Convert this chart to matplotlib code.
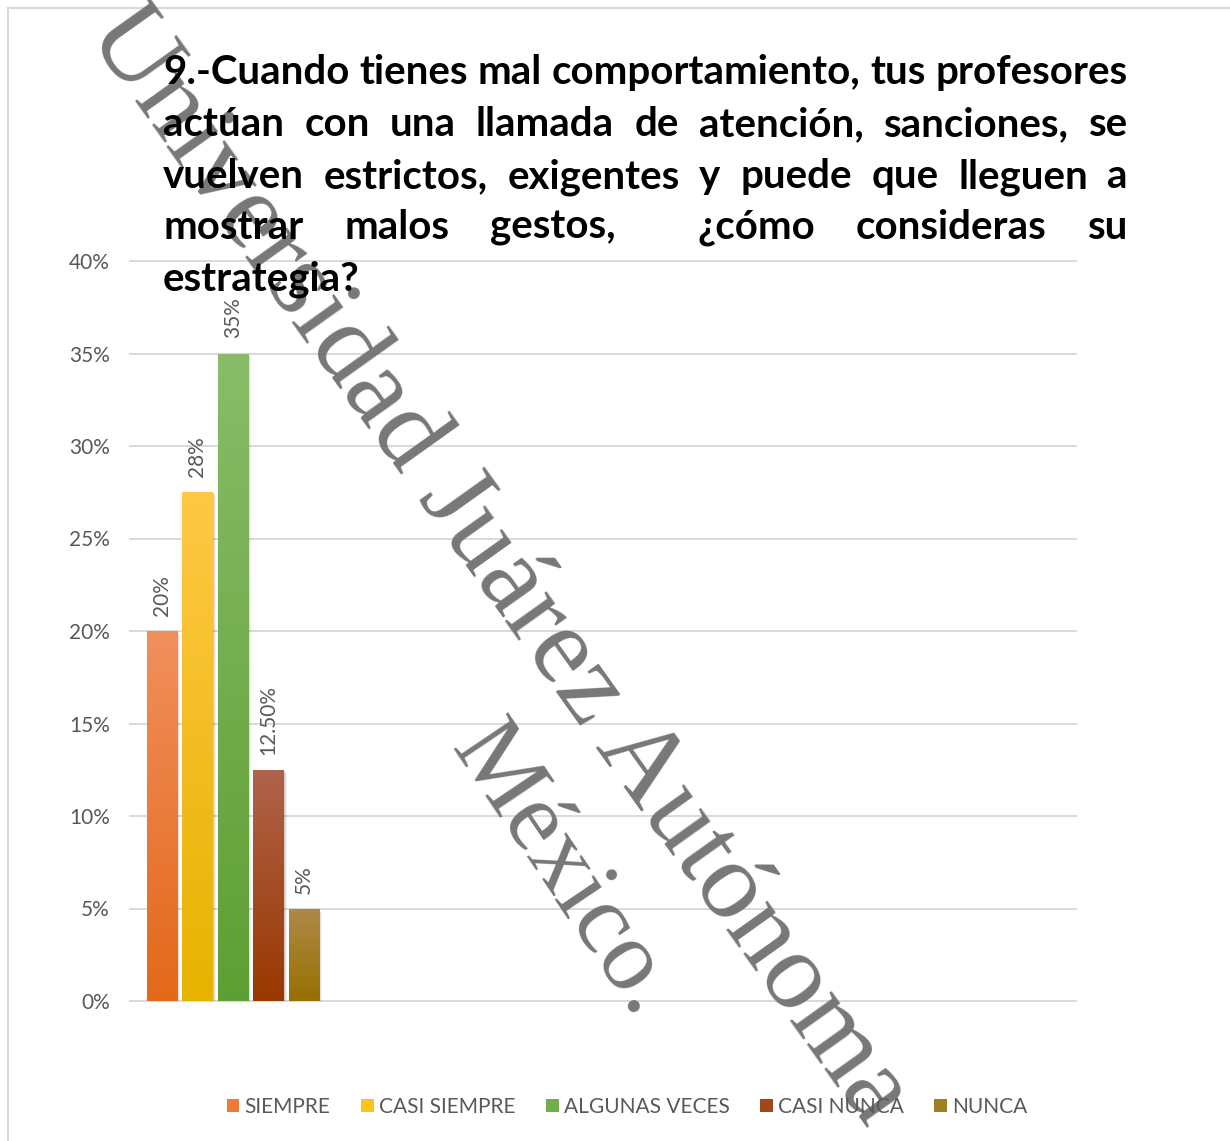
import numpy as np
import matplotlib
matplotlib.use("Agg")
import matplotlib.pyplot as plt
from matplotlib.transforms import IdentityTransform, offset_copy
from matplotlib.patches import Rectangle, Patch
from matplotlib.colors import to_rgb

# ---------------- data ----------------
categories = ["SIEMPRE", "CASI SIEMPRE", "ALGUNAS VECES", "CASI NUNCA", "NUNCA"]
values = [20, 27.5, 35, 12.5, 5]
value_labels = ["20%", "28%", "35%", "12.50%", "5%"]
yticks = [0, 5, 10, 15, 20, 25, 30, 35, 40]
ytick_labels = ["0%", "5%", "10%", "15%", "20%", "25%", "30%", "35%", "40%"]
title_lines = [
    "9.-Cuando tienes mal comportamiento, tus profesores",
    "actúan con una llamada de atención, sanciones, se",
    "vuelven estrictos, exigentes y puede que lleguen a",
    "mostrar malos gestos,  ¿cómo consideras su",
    "estrategia?",
]
watermark_lines = ["Universidad Juárez Autónoma", "México."]

# ---------------- style ----------------
top_colors = ["#F18F5C", "#FFC845", "#89BC69", "#B0634B", "#AF8A48"]
bottom_colors = ["#E3681A", "#E6B300", "#5E9F33", "#993800", "#967000"]
legend_colors = ["#EF7A35", "#FFC21A", "#72AE49", "#A2461C", "#A07E22"]
TXT = "#595959"
GRID = "#D9D9D9"
FONT = "Lato"

W, H, DPI = 1230, 1141, 100
fig = plt.figure(figsize=(W / DPI, H / DPI), dpi=DPI)
fig.patch.set_facecolor("white")
ident = IdentityTransform()

# chart border
fig.add_artist(Rectangle((8, -20), W + 40, H - 8 + 20, transform=ident,
                         fill=False, edgecolor=GRID, lw=1.5, zorder=0))

ax = fig.add_axes([130 / W, 1 - 1001 / H, 946 / W, 740 / H])
ax.set_facecolor("none")
x = np.arange(len(values))
bw = 0.85

# shadows
for dx, dy, a in [(1, -1, 0.10), (2, -2, 0.07), (3, -3, 0.05)]:
    tr = offset_copy(ax.transData, fig=fig, x=dx, y=dy, units="dots")
    ax.bar(x, values, width=bw, color="black", alpha=a, transform=tr, zorder=2,
           linewidth=0)

bars = ax.bar(x, values, width=bw, color="none", linewidth=0, zorder=3)
grad = np.linspace(0, 1, 256)[:, None, None]
for bar, ct, cb in zip(bars, top_colors, bottom_colors):
    x0, y0 = bar.get_x(), bar.get_y()
    w, h = bar.get_width(), bar.get_height()
    img = (1 - grad) * np.array(to_rgb(ct)) + grad * np.array(to_rgb(cb))
    im = ax.imshow(img, extent=[x0, x0 + w, y0, y0 + h], aspect="auto",
                   origin="upper", zorder=3, interpolation="bilinear")
    im.set_clip_path(bar)

for xi, v, lab in zip(x, values, value_labels):
    ax.annotate(lab, (xi, v), xytext=(0, 15), textcoords="offset pixels",
                rotation=90, ha="center", va="bottom", color=TXT,
                fontsize=15, family=FONT, zorder=4)

ax.set_xlim(-0.9, 25.75)
ax.set_ylim(0, 40)
ax.set_yticks(yticks)
ax.set_yticklabels(ytick_labels, family=FONT, fontsize=15, color=TXT)
ax.set_xticks([])
ax.tick_params(axis="y", length=0, pad=14.5)
for s in ax.spines.values():
    s.set_visible(False)
ax.yaxis.grid(True, color=GRID, lw=1.4)
ax.set_axisbelow(True)
for gl in ax.get_ygridlines():
    gl.set_clip_on(False)

# legend
handles = [Patch(facecolor=c, edgecolor="none") for c in legend_colors]
leg = fig.legend(handles, categories, loc="center",
                 bbox_to_anchor=(627 / W, 1 - 1107 / H), ncol=5, frameon=False,
                 handlelength=0.62, handleheight=0.62, handletextpad=0.25,
                 columnspacing=1.45, prop={"family": FONT, "size": 15})
for t in leg.get_texts():
    t.set_color(TXT)

# watermark
wm_kw = dict(family="Liberation Serif", color="#707070", alpha=0.95,
             rotation_mode="anchor", ha="left", va="baseline",
             transform=ident, zorder=2)
fig.text(86, H - 33, watermark_lines[0], fontsize=80, rotation=-54.5, **wm_kw)
fig.text(450, H - 747, watermark_lines[1], fontsize=72, rotation=-56.0, **wm_kw)

# justified title
renderer = fig.canvas.get_renderer()
t_left, t_right = 163, 1128
baselines = [84, 136, 188, 239, 291]
tkw = dict(family=FONT, fontweight="bold", color="black", transform=ident,
           va="baseline", ha="left", zorder=5)
probe = fig.text(0, 0, title_lines[0], fontsize=10, **tkw)
w10 = probe.get_window_extent(renderer).width
probe.remove()
tfs = 10 * (t_right - t_left) / w10
for i, (line, by) in enumerate(zip(title_lines, baselines)):
    if i == len(title_lines) - 1:
        fig.text(t_left, H - by, line, fontsize=tfs, **tkw)
        continue
    tokens = line.split(" ")
    arts = [fig.text(0, H - by, wd, fontsize=tfs, **tkw) if wd else None
            for wd in tokens]
    widths = [a.get_window_extent(renderer).width if a is not None else 0.0
              for a in arts]
    gap = (t_right - t_left - sum(widths)) / max(len(tokens) - 1, 1)
    cx = t_left
    for a, wdt in zip(arts, widths):
        if a is not None:
            a.set_x(cx)
        cx += wdt + gap

fig.savefig("out.png", dpi=DPI, facecolor="white")
